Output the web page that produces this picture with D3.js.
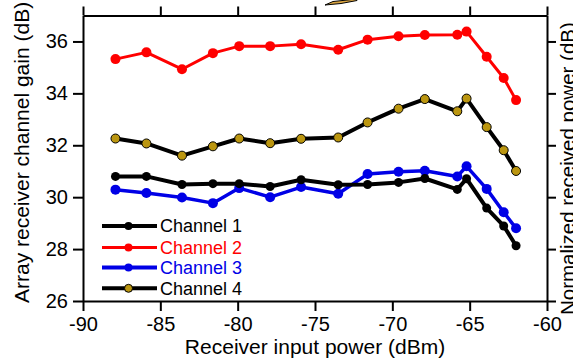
<!DOCTYPE html>
<html><head><meta charset="utf-8">
<script src="https://cdn.jsdelivr.net/npm/d3@7"></script>
<style>
html,body{margin:0;padding:0;background:#fff;}
svg{display:block;font-family:"Liberation Sans",Arial,Helvetica,sans-serif;}
</style></head>
<body>
<svg id="chart" width="573" height="360"></svg>
<script>
const xVals = [-87.9, -85.9, -83.6, -81.6, -79.9, -77.9, -75.9, -73.5, -71.6, -69.6, -67.9, -65.8, -65.2, -63.9, -62.8, -62.0];
const ch1 = [30.80, 30.80, 30.49, 30.52, 30.52, 30.41, 30.67, 30.48, 30.49, 30.57, 30.72, 30.30, 30.71, 29.58, 28.89, 28.13];
const ch2 = [35.32, 35.58, 34.93, 35.55, 35.82, 35.82, 35.89, 35.68, 36.07, 36.20, 36.25, 36.26, 36.38, 35.41, 34.59, 33.74];
const ch3 = [30.29, 30.16, 29.99, 29.77, 30.35, 30.00, 30.39, 30.13, 30.89, 30.98, 31.02, 30.80, 31.19, 30.32, 29.42, 28.80];
const ch4 = [32.26, 32.07, 31.60, 31.96, 32.26, 32.08, 32.25, 32.30, 32.88, 33.41, 33.78, 33.31, 33.80, 32.70, 31.81, 31.01];
const seriesNames = ["Channel 1", "Channel 2", "Channel 3", "Channel 4"];
const xTicks = [-90, -85, -80, -75, -70, -65, -60];
const yTicks = [26, 28, 30, 32, 34, 36];
const xTitle = "Receiver input power (dBm)";
const yTitle = "Array receiver channel gain (dB)";
const y2Title = "Normalized received power (dB)";

const svg = d3.select("#chart");
const L = 83, R = 547, T = 15.5, B = 301;
const x = d3.scaleLinear().domain([-90, -60]).range([L, R]);
const y = d3.scaleLinear().domain([26, 37]).range([B, T]);

const styles = [
  {data: ch1, line: "#000", fill: "#000", stroke: "none", lw: 4, r: 4.5, text: "#000"},
  {data: ch2, line: "#ff0000", fill: "#ff0000", stroke: "none", lw: 3, r: 5, text: "#ff0000"},
  {data: ch3, line: "#0000e6", fill: "#0000e6", stroke: "none", lw: 3.5, r: 5, text: "#0000e6"},
  {data: ch4, line: "#000", fill: "#bb9610", stroke: "#000", lw: 4, r: 4.5, text: "#000"}
];

// decorative cropped arrow at top
svg.append("path").attr("d", "M325,5 L333,1.5 L357,-1 L357,0.5 L341,3.5 Z")
  .attr("fill", "#d9a441").attr("stroke", "#000").attr("stroke-width", 1);

function styleAxis(g) {
  g.selectAll("path.domain").attr("stroke", "#000").attr("stroke-width", 2);
  g.selectAll(".tick line").attr("stroke", "#000").attr("stroke-width", 2);
  g.selectAll("text").attr("font-size", 20).attr("fill", "#000")
    .attr("font-family", "'Liberation Sans',Arial,sans-serif");
}
const gx = svg.append("g").attr("transform", `translate(0,${B})`)
  .call(d3.axisBottom(x).tickValues(xTicks).tickSize(10).tickSizeOuter(0).tickPadding(6).tickFormat(d3.format("d")));
styleAxis(gx);
const gxt = svg.append("g").attr("transform", `translate(0,${T})`)
  .call(d3.axisTop(x).tickValues(xTicks).tickSize(9).tickSizeOuter(0).tickFormat(""));
styleAxis(gxt);
const gy = svg.append("g").attr("transform", `translate(${L},0)`)
  .call(d3.axisLeft(y).tickValues(yTicks).tickSize(10).tickSizeOuter(0).tickPadding(5).tickFormat(d3.format("d")));
styleAxis(gy);
const gyr = svg.append("g").attr("transform", `translate(${R},0)`)
  .call(d3.axisRight(y).tickValues(yTicks).tickSize(9).tickSizeOuter(0).tickFormat(""));
styleAxis(gyr);
// use minus-hyphen as in reference
gx.selectAll("text").text(d => (d < 0 ? "-" + Math.abs(d) : d));

const line = d3.line().x((d, i) => x(xVals[i])).y(d => y(d));
const order = [2, 0, 1, 3];
order.forEach(k => {
  const s = styles[k];
  const g = svg.append("g");
  g.append("path").datum(s.data).attr("d", line).attr("fill", "none")
    .attr("stroke", s.line).attr("stroke-width", s.lw).attr("stroke-linejoin", "round");
  g.selectAll("circle").data(s.data).join("circle")
    .attr("cx", (d, i) => x(xVals[i])).attr("cy", d => y(d)).attr("r", s.r)
    .attr("fill", s.fill).attr("stroke", s.stroke).attr("stroke-width", 1);
});

// legend
const lg = svg.append("g");
const rowY = [226, 247.5, 267.5, 288.3];
styles.forEach((s, i) => {
  const yy = rowY[i];
  lg.append("line").attr("x1", 102).attr("x2", 157).attr("y1", yy).attr("y2", yy)
    .attr("stroke", s.line).attr("stroke-width", s.lw === 3 ? 3 : 4);
  lg.append("circle").attr("cx", 128.5).attr("cy", yy).attr("r", 4)
    .attr("fill", s.fill).attr("stroke", s.stroke).attr("stroke-width", 1);
  lg.append("text").attr("x", 160).attr("y", yy + 6.3).attr("font-size", 18)
    .attr("fill", s.text).text(seriesNames[i]);
});

// titles
svg.append("text").attr("x", (L + R) / 2).attr("y", 354).attr("text-anchor", "middle")
  .attr("font-size", 21).text(xTitle);
svg.append("text").attr("transform", "translate(28.5,303) rotate(-90)").attr("text-anchor", "start")
  .attr("font-size", 21).text(yTitle);
svg.append("text").attr("transform", "translate(575,315) rotate(-90)").attr("text-anchor", "start")
  .attr("font-size", 20.5).text(y2Title);
</script>
</body></html>
